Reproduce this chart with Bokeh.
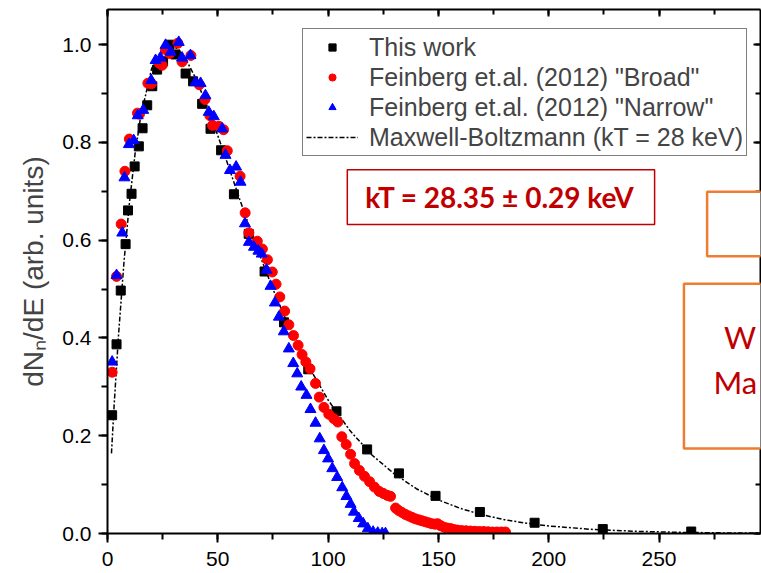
from bokeh.plotting import figure
from bokeh.models import (LinearAxis, SingleIntervalTicker, PrintfTickFormatter, Legend,
                          LegendItem, BoxAnnotation, Range1d, Label, CustomLabelingPolicy)
from bokeh.embed import file_html
from bokeh.resources import INLINE

# ---- data ----
work_E = [2.1, 4.1, 6.0, 8.2, 9.3, 10.9, 12.3, 14.2, 15.9, 18.0, 20.3, 22.5, 25.2, 28.1, 30.8,
          35.4, 38.8, 42.9, 46.7, 51.5, 57.3, 64.0, 71.2, 80.0, 91.0, 103.8, 117.7, 132.1,
          148.7, 168.8, 193.6, 224.5, 264.6]
work_y = [0.242, 0.387, 0.497, 0.592, 0.661, 0.695, 0.751, 0.792, 0.829, 0.876, 0.915, 0.949,
          0.966, 1.000, 0.980, 0.941, 0.925, 0.879, 0.828, 0.784, 0.694, 0.613, 0.536, 0.432,
          0.336, 0.250, 0.172, 0.123, 0.077, 0.044, 0.022, 0.009, 0.004]

broad_E = [2.1, 4.1, 6.2, 7.9, 9.9, 13.6, 14.5, 18.3, 19.9, 23.5, 24.8, 26.3, 28.2, 31.9, 33.8,
           37.8, 41.6, 44.2, 46.4, 47.6, 50.5, 52.6, 54.3, 60.1, 62.4, 64.1, 67.9, 70.2, 72.5,
           74.7, 76.4, 78.1, 80.3, 82.2, 84.3, 86.4, 88.2, 89.9, 91.8, 94.3, 96.0, 98.1, 100.3,
           102.6, 104.4, 106.2, 108.2, 110.2, 112.0, 114.2, 116.5, 118.8, 121.0, 123.2, 125.0,
           126.8, 128.3, 130.6, 132.0, 133.5, 135.0, 136.5, 138.0, 139.5, 141.0, 142.5, 144.0,
           145.5, 147.0, 148.5, 149.6, 151.0, 152.5, 154.0, 155.5, 157.0, 158.5, 160.5, 162.5,
           164.5, 166.5, 168.5, 170.5, 172.5, 174.5, 176.5, 178.5, 180.4]
broad_y = [0.330, 0.526, 0.633, 0.741, 0.807, 0.860, 0.858, 0.921, 0.920, 0.962, 0.958, 0.990,
           0.982, 1.003, 0.965, 0.978, 0.918, 0.888, 0.855, 0.835, 0.833, 0.826, 0.783, 0.731,
           0.656, 0.615, 0.598, 0.582, 0.560, 0.535, 0.510, 0.484, 0.455, 0.427, 0.405, 0.385,
           0.366, 0.351, 0.337, 0.307, 0.279, 0.258, 0.244, 0.235, 0.228, 0.198, 0.182, 0.162,
           0.143, 0.129, 0.117, 0.106, 0.095, 0.086, 0.082, 0.078, 0.076, 0.052, 0.047, 0.043,
           0.039, 0.036, 0.033, 0.030, 0.028, 0.026, 0.024, 0.022, 0.020, 0.019, 0.020, 0.016,
           0.013, 0.011, 0.010, 0.008, 0.007, 0.006, 0.0055, 0.005, 0.0045, 0.004, 0.004,
           0.0035, 0.003, 0.003, 0.003, 0.003]

narrow_E = [2.1, 4.1, 6.7, 7.7, 9.7, 11.9, 13.7, 16.2, 19.8, 21.8, 24.0, 26.3, 28.6, 32.3, 33.8,
            37.6, 39.9, 42.2, 44.4, 45.9, 48.2, 52.0, 53.5, 55.5, 58.3, 60.3, 62.3, 64.1, 66.4,
            68.4, 69.9, 72.1, 73.9, 75.9, 77.7, 79.9, 82.2, 84.2, 86.0, 87.8, 90.2, 92.0, 94.3,
            96.2, 98.1, 100.0, 101.9, 104.1, 106.4, 108.3, 110.2, 111.7, 113.9, 115.9, 118.0,
            120.4, 122.5, 124.5, 126.0]
narrow_y = [0.351, 0.528, 0.615, 0.728, 0.796, 0.804, 0.855, 0.866, 0.927, 0.968, 0.973, 0.999,
            0.985, 1.005, 0.973, 0.978, 0.923, 0.921, 0.896, 0.862, 0.853, 0.828, 0.774, 0.743,
            0.750, 0.719, 0.634, 0.596, 0.586, 0.578, 0.572, 0.539, 0.506, 0.472, 0.443, 0.413,
            0.378, 0.348, 0.327, 0.300, 0.283, 0.254, 0.226, 0.194, 0.170, 0.153, 0.133, 0.115,
            0.094, 0.076, 0.060, 0.044, 0.031, 0.020, 0.010, 0.003, 0.001, 0.0, 0.0]

mb_E = [1.8, 3, 5, 7.5, 10, 12.5, 15, 20, 25, 28, 32, 36, 40, 45, 50, 55, 60, 65, 70, 75, 80,
        90, 100, 110, 120, 130, 140, 150, 160, 170, 180, 190, 200, 220, 240, 260, 280, 296]
mb_y = [0.164, 0.262, 0.406, 0.557, 0.679, 0.777, 0.852, 0.951, 0.994, 1.0, 0.991, 0.966, 0.931,
        0.876, 0.814, 0.749, 0.683, 0.619, 0.558, 0.500, 0.446, 0.351, 0.273, 0.210, 0.160,
        0.122, 0.0916, 0.0687, 0.0513, 0.0381, 0.0282, 0.0209, 0.0154, 0.0083, 0.0044, 0.0023,
        0.0012, 0.0007]

labels = ["This work", "Feinberg et.al. (2012) \"Broad\"", "Feinberg et.al. (2012) \"Narrow\"",
          "Maxwell-Boltzmann (kT = 28 keV)"]
ylabel = "dN\u2099/dE (arb. units)"
fit_text = "kT = 28.35 \u00b1 0.29 keV"

FONT = "Liberation Sans"

p = figure(width=761, height=573, x_range=Range1d(0, 296), y_range=Range1d(0, 1.072),
           output_backend="svg", toolbar_location=None,
           min_border_left=107, min_border_right=1, min_border_top=9, min_border_bottom=40)
p.grid.visible = False
p.outline_line_color = None
p.background_fill_color = "white"
p.border_fill_color = "white"

xt = SingleIntervalTicker(interval=50, num_minor_ticks=2)
yt = SingleIntervalTicker(interval=0.2, num_minor_ticks=2)

for ax, t in ((p.xaxis[0], xt), (p.yaxis[0], yt)):
    ax.ticker = t
    ax.axis_line_width = 2
    ax.major_tick_line_width = 2
    ax.minor_tick_line_width = 2
    ax.major_tick_out = 9
    ax.major_tick_in = 0
    ax.minor_tick_out = 6
    ax.minor_tick_in = 0
    ax.major_label_text_font = FONT
    ax.major_label_text_font_size = "21px"
    ax.major_label_text_color = "black"

p.xaxis.major_label_standoff = 9
p.yaxis.major_label_standoff = 7
p.yaxis.formatter = PrintfTickFormatter(format="%.1f")
p.yaxis.axis_label = ylabel
p.yaxis.axis_label_text_font = FONT
p.yaxis.axis_label_text_font_style = "normal"
p.yaxis.axis_label_text_font_size = "28px"
p.yaxis.axis_label_standoff = 10

for loc, t in (("above", SingleIntervalTicker(interval=50, num_minor_ticks=2)),
               ("right", SingleIntervalTicker(interval=0.2, num_minor_ticks=2))):
    ax = LinearAxis(ticker=t, axis_line_width=2, major_tick_in=7, major_tick_out=0,
                    minor_tick_in=5, minor_tick_out=0, major_tick_line_width=2,
                    minor_tick_line_width=2, major_label_text_font_size="0px",
                    major_label_standoff=0,
                    major_label_policy=CustomLabelingPolicy(code="return []"))
    p.add_layout(ax, loc)

r_mb = p.line(mb_E, mb_y, line_color="black", line_width=1.5, line_dash="5 2 2 2")
r_sq = p.scatter(work_E, work_y, marker="square", size=9, color="black")
r_ci = p.scatter(broad_E, broad_y, marker="circle", size=10, color="#ff0000")
r_tr = p.scatter(narrow_E, narrow_y, marker="triangle", size=11, color="#0000ff")

legend = Legend(items=[LegendItem(label=labels[0], renderers=[r_sq]),
                       LegendItem(label=labels[1], renderers=[r_ci]),
                       LegendItem(label=labels[2], renderers=[r_tr]),
                       LegendItem(label=labels[3], renderers=[r_mb])],
                location=(195, 377), margin=0, padding=3, spacing=0,
                label_text_font=FONT, label_text_font_size="25px",
                label_height=30, glyph_height=18, glyph_width=52, label_standoff=11,
                border_line_color="black", border_line_width=1,
                background_fill_color="white", background_fill_alpha=1)
p.add_layout(legend)

p.add_layout(BoxAnnotation(left=108.7, right=248.0, bottom=0.632, top=0.744,
                           fill_color="white", fill_alpha=1, line_color="#c00000",
                           line_alpha=1, line_width=1.5))
p.add_layout(Label(x=177.9, y=0.688, text=fit_text, text_align="center",
                   text_baseline="middle", text_font="Lato", text_font_style="bold",
                   text_font_size="28px", text_color="#c00000"))

p.add_layout(BoxAnnotation(left=271.8, right=400, bottom=0.567, top=0.699,
                           fill_color="white", fill_alpha=1, line_color="#ed7d31",
                           line_alpha=1, line_width=2.5))
p.add_layout(BoxAnnotation(left=261.3, right=400, bottom=0.174, top=0.511,
                           fill_color="white", fill_alpha=1, line_color="#ed7d31",
                           line_alpha=1, line_width=2.5))
p.add_layout(Label(x=279.5, y=0.402, text="W", text_font="Lato", text_font_size="31px",
                   text_color="#c00000", text_baseline="alphabetic"))
p.add_layout(Label(x=274.7, y=0.310, text="Ma", text_font="Lato", text_font_size="31px",
                   text_color="#c00000", text_baseline="alphabetic"))

open("out.html", "w").write(file_html(p, INLINE))
